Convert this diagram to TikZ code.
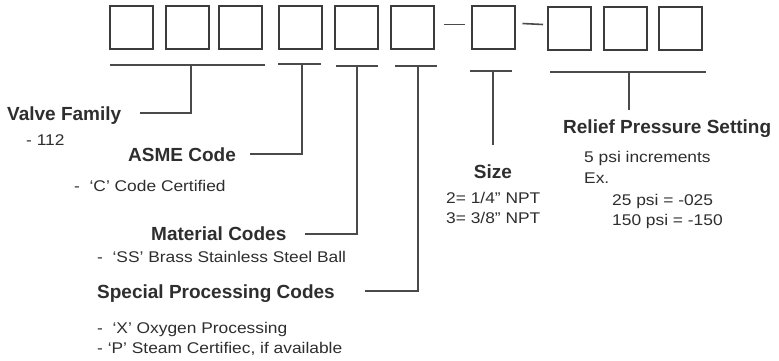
\documentclass[tikz,border=0pt]{standalone}
\usepackage{fontspec}
\setmainfont{Liberation Sans}
\newfontfamily\regfont[FakeStretch=1.12]{Liberation Sans}
\definecolor{ink}{HTML}{2E2E2E}
\definecolor{boxline}{HTML}{3C3C3C}
\definecolor{conline}{HTML}{4A4A4A}
\tikzset{
  digitbox/.style={draw=boxline, line width=2pt, minimum size=43pt, inner sep=0pt},
  conn/.style={draw=conline, line width=1.1pt},
  head/.style={anchor=base west, inner sep=0pt, text=ink, font=\fontsize{19}{22}\selectfont\bfseries},
  body/.style={anchor=base west, inner sep=0pt, text=ink, font=\regfont\fontsize{15.5}{18}\selectfont},
}
\begin{document}
\begin{tikzpicture}[x=1pt,y=-1pt]
\useasboundingbox (0,0) rectangle (779,360);
% code boxes
\node[digitbox] (b1) at (131.5,27.5) {};
\node[digitbox] (b2) at (187,27.5) {};
\node[digitbox] (b3) at (240,27.5) {};
\node[digitbox] (b4) at (300.5,27.5) {};
\node[digitbox] (b5) at (356,27.5) {};
\node[digitbox] (b6) at (412,27.5) {};
\node[digitbox] (b7) at (493,27.5) {};
\node[digitbox] (b8) at (569.5,28.5) {};
\node[digitbox] (b9) at (625,28.5) {};
\node[digitbox] (b10) at (680,28.5) {};
% dashes
\draw[conn, line width=1.6pt] ([xshift=9pt,yshift=3pt]b6.east) -- ([xshift=-6pt,yshift=3pt]b7.west);
\draw[conn, line width=1.6pt] ([xshift=7pt,yshift=4pt]b7.east) -- ([xshift=-4pt,yshift=4pt]b8.west);
% underlines
\coordinate (u1a) at (110,65);  \coordinate (u1b) at (265,65);
\coordinate (u2a) at (278,64);  \coordinate (u2b) at (321,64);
\coordinate (u3a) at (336,66);  \coordinate (u3b) at (378,66);
\coordinate (u4a) at (395,66);  \coordinate (u4b) at (437,66);
\coordinate (u5a) at (470,71);  \coordinate (u5b) at (512,71);
\coordinate (u6a) at (550,72);  \coordinate (u6b) at (706,72);
\draw[conn] (u1a) -- (u1b);
\draw[conn] (u2a) -- (u2b);
\draw[conn] (u3a) -- (u3b);
\draw[conn] (u4a) -- (u4b);
\draw[conn] (u5a) -- (u5b);
\draw[conn] (u6a) -- (u6b);
% labels
\node[head] (vf) at (7,120) {Valve Family};
\node[body] (vf1) at (26,145) {- 112};
\node[head] (asme) at (128,161) {ASME Code};
\node[body] (asme1) at (74,191) {-\ \ ‘C’ Code Certified};
\node[head] (mat) at (151,240) {Material Codes};
\node[body] (mat1) at (97,262) {-\ \ ‘SS’ Brass Stainless Steel Ball};
\node[head] (spc) at (97,298) {Special Processing Codes};
\node[body] (spc1) at (97,333) {-\ \ ‘X’ Oxygen Processing};
\node[body] (spc2) at (97,353) {- ‘P’ Steam Certifiec, if available};
\node[head, anchor=base] (size) at (493,178) {Size};
\node[body] (size1) at (446,203) {2= 1/4” NPT};
\node[body] (size2) at (446,223) {3= 3/8” NPT};
\node[head] (rel) at (563,133) {Relief Pressure Setting};
\node[body] (rel1) at (584,162) {5 psi increments};
\node[body] (rel2) at (584,183) {Ex.};
\node[body] (rel3) at (612,205) {25 psi = -025};
\node[body] (rel4) at (612,225) {150 psi = -150};
% connectors
\coordinate (t1) at (191,65);  \coordinate (e1) at (140,113);
\coordinate (t2) at (302,64);  \coordinate (e2) at (250,154);
\coordinate (t3) at (357,66);  \coordinate (e3) at (305,234);
\coordinate (t4) at (418,66);  \coordinate (e4) at (365,291);
\coordinate (t5) at (493,71);  \coordinate (e5) at (493,145);
\coordinate (t6) at (629,72);  \coordinate (e6) at (629,110);
\draw[conn] (t1) |- (e1);
\draw[conn] (t2) |- (e2);
\draw[conn] (t3) |- (e3);
\draw[conn] (t4) |- (e4);
\draw[conn] (t5) -- (e5);
\draw[conn] (t6) -- (e6);
\end{tikzpicture}
\end{document}
